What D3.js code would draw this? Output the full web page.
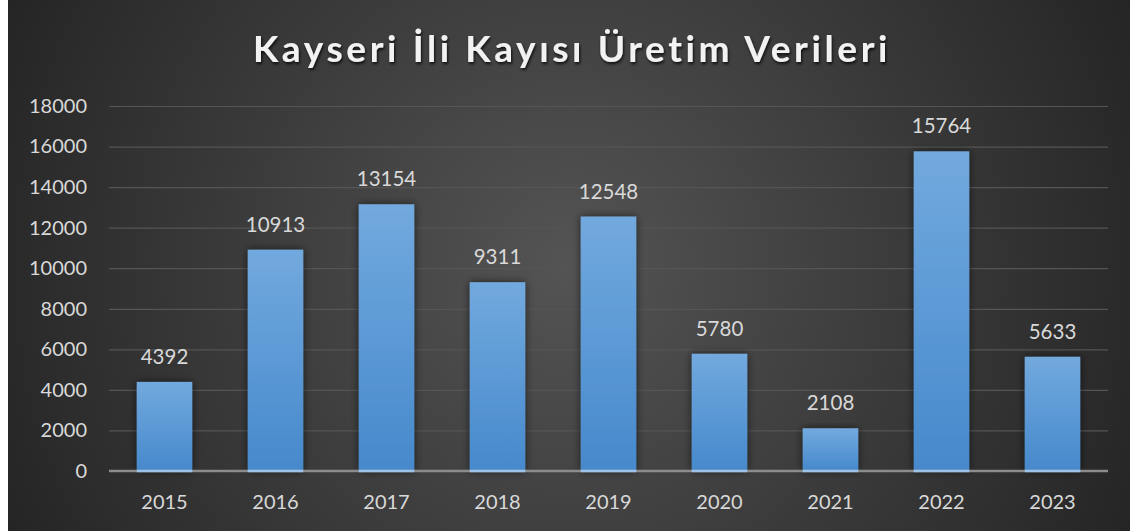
<!DOCTYPE html>
<html>
<head>
<meta charset="utf-8">
<script src="https://cdn.jsdelivr.net/npm/d3@7"></script>
<style>
html,body{margin:0;padding:0;background:#fff;}
svg{display:block;}
</style>
</head>
<body>
<svg id="chart" width="1130" height="531"></svg>
<script>
const years = ["2015","2016","2017","2018","2019","2020","2021","2022","2023"];
const values = [4392, 10913, 13154, 9311, 12548, 5780, 2108, 15764, 5633];
const yTicks = [0, 2000, 4000, 6000, 8000, 10000, 12000, 14000, 16000, 18000];
const title = "Kayseri İli Kayısı Üretim Verileri";

(function(){
const W = 1130, H = 531;
const svg = d3.select("#chart");
const defs = svg.append("defs");

const bg = defs.append("radialGradient").attr("id","bg")
  .attr("gradientUnits","userSpaceOnUse")
  .attr("cx", 569).attr("cy", 265).attr("r", 620);
bg.append("stop").attr("offset","0%").attr("stop-color","#545454");
bg.append("stop").attr("offset","100%").attr("stop-color","#252525");

const bar = defs.append("linearGradient").attr("id","bar")
  .attr("x1",0).attr("y1",0).attr("x2",0).attr("y2",1);
bar.append("stop").attr("offset","0%").attr("stop-color","#72a9de");
bar.append("stop").attr("offset","100%").attr("stop-color","#4689cc");

const sh = defs.append("filter").attr("id","shadow")
  .attr("x","-30%").attr("y","-10%").attr("width","160%").attr("height","130%");
sh.append("feGaussianBlur").attr("in","SourceAlpha").attr("stdDeviation",4).attr("result","b");
sh.append("feOffset").attr("in","b").attr("dx",0).attr("dy",0).attr("result","o");
sh.append("feComponentTransfer").attr("in","o").attr("result","o2")
  .append("feFuncA").attr("type","linear").attr("slope",0.6);
const m = sh.append("feMerge");
m.append("feMergeNode").attr("in","o2");
m.append("feMergeNode").attr("in","SourceGraphic");

const tsh = defs.append("filter").attr("id","tshadow")
  .attr("x","-10%").attr("y","-30%").attr("width","120%").attr("height","160%");
tsh.append("feGaussianBlur").attr("in","SourceAlpha").attr("stdDeviation",1.5).attr("result","b");
tsh.append("feOffset").attr("in","b").attr("dx",1).attr("dy",2).attr("result","o");
tsh.append("feComponentTransfer").attr("in","o").attr("result","o2")
  .append("feFuncA").attr("type","linear").attr("slope",0.8);
const m2 = tsh.append("feMerge");
m2.append("feMergeNode").attr("in","o2");
m2.append("feMergeNode").attr("in","SourceGraphic");

svg.append("rect").attr("x",8).attr("y",0).attr("width",W-8).attr("height",H).attr("fill","url(#bg)");

const pLeft = 109, pRight = 1108, pTop = 106, pBottom = 471;
const x = d3.scaleBand().domain(years).range([pLeft, pRight]).paddingInner(0.5).paddingOuter(0.25);
const y = d3.scaleLinear().domain([0, 18000]).range([pBottom, pTop]);

const font = "Lato, 'Open Sans', sans-serif";

const yAxis = d3.axisLeft(y).tickValues(yTicks).tickSize(-(pRight-pLeft)).tickPadding(22).tickFormat(d3.format("d"));
const gy = svg.append("g").attr("transform", `translate(${pLeft},0)`).call(yAxis);
gy.select(".domain").remove();
gy.selectAll(".tick line").attr("stroke","#555555").attr("stroke-width",1.2);
gy.selectAll(".tick text").attr("fill","#d9d9d9").attr("font-family",font).attr("font-size",20);

svg.append("g").selectAll("rect").data(years).join("rect")
  .attr("x", d => x(d))
  .attr("y", (d,i) => y(values[i]))
  .attr("width", x.bandwidth())
  .attr("height", (d,i) => pBottom - y(values[i]))
  .attr("fill","url(#bar)")
  .attr("filter","url(#shadow)");

const xAxis = d3.axisBottom(x).tickSize(0).tickPadding(0);
const gx = svg.append("g").attr("transform", `translate(0,${pBottom})`).call(xAxis);
gx.select(".domain").attr("stroke","#8c8c8c").attr("stroke-width",2.5)
  .attr("d", `M${pLeft},0H${pRight}`);
gx.selectAll(".tick text").attr("fill","#d9d9d9").attr("font-family",font).attr("font-size",20)
  .attr("dy", null).attr("y", 38);

svg.append("g").selectAll("line").data(years).join("line")
  .attr("x1", d => x(d)).attr("x2", d => x(d) + x.bandwidth())
  .attr("y1", pBottom).attr("y2", pBottom)
  .attr("stroke","#9cc3ea").attr("stroke-width",2.5);

svg.append("g").selectAll("text").data(years).join("text")
  .attr("x", d => x(d) + x.bandwidth()/2)
  .attr("y", (d,i) => y(values[i]) - 18)
  .attr("text-anchor","middle")
  .attr("fill","#d9d9d9")
  .attr("font-family",font)
  .attr("font-size",20.5)
  .text((d,i) => values[i]);

svg.append("text").attr("x", 572).attr("y", 62)
  .attr("text-anchor","middle")
  .attr("fill","#f2f2f2")
  .attr("font-family",font)
  .attr("font-weight","bold")
  .attr("font-size",37)
  .attr("letter-spacing", 3.6)
  .attr("filter","url(#tshadow)")
  .text(title);
})();
</script>
</body>
</html>
